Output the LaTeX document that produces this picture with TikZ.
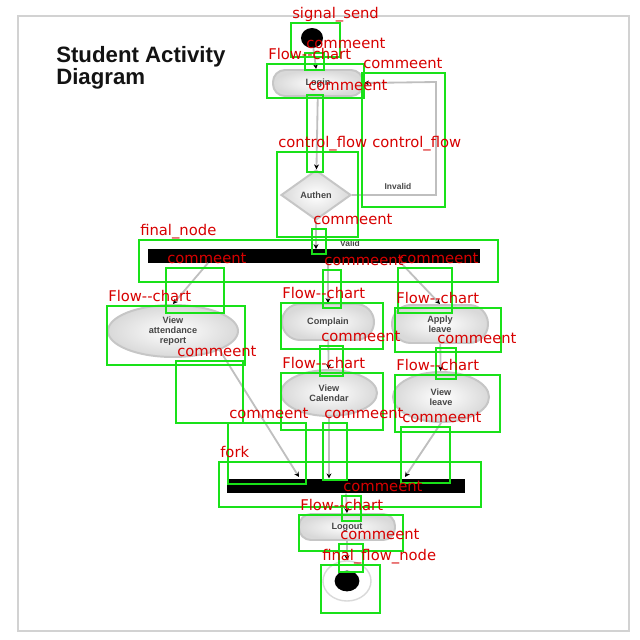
\documentclass[tikz,border=0pt]{standalone}
\usepackage{fontspec}
\setmainfont{Liberation Sans}
\newfontfamily\annotfont{DejaVu Sans}
\usetikzlibrary{arrows.meta,shapes.geometric,positioning,calc}
\definecolor{boxgreen}{RGB}{25,225,25}
\definecolor{labelred}{RGB}{215,0,0}
\tikzset{
  frame/.style = {draw=gray!35, line width=1.8pt},
  title/.style = {anchor=north west, inner sep=0pt, align=left, text=gray!15!black, font=\bfseries\fontsize{15.8}{15.5}\selectfont},
  startnode/.style = {ellipse, fill=black, minimum width=0.55cm, minimum height=0.5cm, inner sep=0pt},
  activity/.style = {draw=gray!45, line width=1.4pt, rounded corners=0.3cm, inner color=white, outer color=gray!30, text=gray!55!black, align=center, inner sep=1pt, font=\bfseries\fontsize{6.5}{7}\selectfont},
  activityellipse/.style = {activity, ellipse, rounded corners=0pt},
  decision/.style = {diamond, draw=gray!45, line width=1.4pt, inner color=white, outer color=gray!30, text=gray!55!black, inner sep=0pt, minimum width=1.75cm, minimum height=1.25cm, font=\bfseries\fontsize{6.5}{7}\selectfont},
  bar/.style = {fill=black, minimum height=0.33cm, inner sep=0pt},
  flow/.style = {draw=gray!50, line width=1.3pt, -{Stealth[color=black, length=3.5pt, width=3.5pt]}},
  guard/.style = {text=gray!55!black, font=\bfseries\fontsize{6}{7}\selectfont, inner sep=1pt},
  endring/.style = {ellipse, draw=gray!30, line width=1pt, minimum width=1.2cm, minimum height=1cm, inner sep=0pt},
  enddot/.style = {ellipse, fill=black, minimum width=0.62cm, minimum height=0.52cm, inner sep=0pt},
  annotbox/.style = {draw=boxgreen, line width=1.7pt},
  annotlabel/.style = {anchor=base west, inner sep=0pt, text=labelred, font=\annotfont\fontsize{10.5}{11}\selectfont}
}
% green box with its red tag
\newcommand{\annotbox}[6]{%
  \draw[annotbox] (#2,#3) rectangle (#4,#5);
  \node[annotlabel] (#1) at (#2+1,#3-5) {#6};}

\begin{document}
\begin{tikzpicture}[x=0.025cm, y=-0.025cm]
\useasboundingbox (0,0) rectangle (640,640);
\draw[frame] (18,16) rectangle (629,631);
\node[title] (title) at (56,46) {Student Activity\\Diagram};

% activity diagram
\node[startnode] (init) at (312,38) {};
\node[activity, minimum width=2.25cm, minimum height=0.65cm] (login) at (318,83) {Login};
\node[decision] (authen) at (316,195) {Authen};
\node[bar, minimum width=8.3cm] (forkbar) at (314,256) {};
\node[activityellipse, minimum width=3.25cm, minimum height=1.3cm] (attend) at (173,331) {View\\attendance\\report};
\node[activity, minimum width=2.3cm, minimum height=0.9cm, rounded corners=0.45cm] (complain) at (328,322) {Complain};
\node[activity, minimum width=2.4cm, minimum height=0.95cm, rounded corners=0.47cm] (apply) at (440,324) {Apply\\leave};
\node[activityellipse, minimum width=2.4cm, minimum height=1.15cm] (calendar) at (329,393) {View\\Calendar};
\node[activityellipse, minimum width=2.4cm, minimum height=1.25cm] (viewleave) at (441,397) {View\\leave};
\node[bar, minimum width=5.95cm, minimum height=0.37cm] (joinbar) at (346,486) {};
\node[activity, minimum width=2.4cm, minimum height=0.65cm] (logout) at (347,527) {Logout};
\node[endring] (finalring) at (347,581) {};
\node[enddot] (finaldot) at (347,581) {};

\coordinate (loopcorner) at (436,82);
\coordinate (forkleft) at (208,263);
\coordinate (forkright) at (401,263);
\coordinate (joinleft) at (299,477);
\coordinate (joinright) at (405,477);

\draw[flow] (init) -- (login);
\draw[flow] (login) -- (authen);
\draw[flow] (authen.east) -| (loopcorner) -- (login.east);
\node[guard] (invalid) at (398,186) {Invalid};
\draw[flow] (authen.south) -- (authen.south |- forkbar.north);
\node[guard] (valid) at (350,243) {Valid};
\draw[flow] (forkleft) -- (attend.north);
\draw[flow] (complain.north |- forkbar.south) -- (complain.north);
\draw[flow] (forkright) -- (apply.north);
\draw[flow] (complain) -- (calendar);
\draw[flow] (apply) -- (viewleave);
\draw[flow] (attend.south east) -- (joinleft);
\draw[flow] (calendar.south) -- (calendar.south |- joinbar.north);
\draw[flow] (viewleave.south) -- (joinright);
\draw[flow] (joinbar.south) -- (logout.north);
\draw[flow] (logout) -- (finalring);

% detection boxes
\annotbox{a1}{291}{23}{340}{57}{signal\_send}
\annotbox{a2}{305}{53}{324}{70}{commeent}
\annotbox{a3}{267}{64}{364}{98}{Flow{-}{-}chart}
\annotbox{a4}{362}{73}{445}{207}{commeent}
\annotbox{a5}{307}{95}{323}{172}{commeent}
\annotbox{a6}{277}{152}{358}{237}{control\_flow}
\node[annotlabel] (a6b) at (372,147) {control\_flow};
\annotbox{a7}{312}{229}{326}{254}{commeent}
\annotbox{a8}{139}{240}{498}{282}{final\_node}
\annotbox{a9}{166}{268}{224}{313}{commeent}
\annotbox{a10}{323}{270}{341}{308}{commeent}
\annotbox{a11}{398}{268}{452}{313}{commeent}
\annotbox{a12}{107}{306}{245}{365}{Flow{-}{-}chart}
\annotbox{a13}{281}{303}{383}{349}{Flow{-}{-}chart}
\annotbox{a14}{395}{308}{501}{352}{Flow{-}{-}chart}
\annotbox{a15}{176}{361}{243}{423}{commeent}
\annotbox{a16}{320}{346}{343}{376}{commeent}
\annotbox{a17}{436}{348}{456}{379}{commeent}
\annotbox{a18}{281}{373}{383}{430}{Flow{-}{-}chart}
\annotbox{a19}{395}{375}{500}{432}{Flow{-}{-}chart}
\annotbox{a20}{228}{423}{306}{484}{commeent}
\annotbox{a21}{323}{423}{347}{480}{commeent}
\annotbox{a22}{401}{427}{450}{483}{commeent}
\annotbox{a23}{219}{462}{481}{507}{fork}
\annotbox{a24}{342}{496}{361}{521}{commeent}
\annotbox{a25}{299}{515}{403}{551}{Flow{-}{-}chart}
\annotbox{a26}{339}{544}{363}{572}{commeent}
\annotbox{a27}{321}{565}{380}{613}{final\_flow\_node}
\end{tikzpicture}
\end{document}
